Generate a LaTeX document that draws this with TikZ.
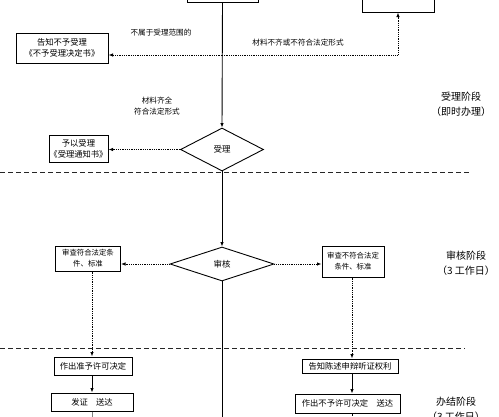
\documentclass[tikz,border=0pt]{standalone}
\usepackage{fontspec}
\newfontfamily\cjk{Noto Sans CJK SC}
\usetikzlibrary{shapes.geometric,arrows.meta}
\begin{document}
\begin{tikzpicture}[x=1pt,y=-1pt,
  font=\cjk\fontsize{8.3}{11}\selectfont,
  box/.style={draw, line width=1pt, inner sep=0pt, align=center},
  dia/.style={draw, line width=0.9pt, diamond, inner sep=0pt, font=\cjk\fontsize{8.5}{10}\selectfont},
  flow/.style={line width=0.9pt, -{Latex[length=4.5pt,width=3.5pt]}},
  dflow/.style={line width=0.8pt, densely dotted, -{Latex[length=4.5pt,width=3.5pt]}},
  dline/.style={line width=0.8pt, densely dotted},
  stage/.style={line width=0.9pt, dash pattern=on 5pt off 3pt, draw=black!85},
  lab/.style={inner sep=0pt, font=\cjk\fontsize{7.6}{11}\selectfont, align=center},
  small/.style={font=\cjk\fontsize{7.4}{11}\selectfont},
  phase/.style={inner sep=0pt, font=\cjk\fontsize{10}{14.5}\selectfont, align=center}]
\useasboundingbox (0,0) rectangle (499,416);
\clip (0,0) rectangle (499,416);
\fill[white] (0,0) rectangle (499,416);

% nodes
\node[box, minimum width=71pt, minimum height=14pt] (top) at (222.5,-5) {};
\node[box, minimum width=72pt, minimum height=24pt] (rtop) at (398,0) {};
\node[box, minimum width=92pt, minimum height=30pt] (nogo) at (62,48) {告知不予受理\\《不予受理决定书》};
\node[dia, minimum width=83pt, minimum height=43pt] (acc) at (222,149.5) {受理};
\node[box, minimum width=59pt, minimum height=27pt] (yes) at (78.5,148.5) {予以受理\\《受理通知书》};
\node[dia, minimum width=104pt, minimum height=34pt] (rev) at (222,264) {审核};
\node[box, small, minimum width=65pt, minimum height=25pt] (ok) at (88,258.5) {审查符合法定条\\件、标准};
\node[box, small, minimum width=62pt, minimum height=31pt] (no) at (353,261.5) {审查不符合法定\\条件、标准};
\node[box, minimum width=78pt, minimum height=18pt] (grant) at (93,366) {作出准予许可决定};
\node[box, minimum width=82pt, minimum height=18pt] (issue) at (92,402) {发证\quad 送达};
\node[box, minimum width=96pt, minimum height=14pt] (hear) at (350,366) {告知陈述申辩听证权利};
\node[box, minimum width=105pt, minimum height=19pt] (deny) at (347.5,403.5) {作出不予许可决定\quad 送达};

\coordinate (j1) at (222,55);
\coordinate (c1) at (398,55);
\coordinate (bmain) at (222,420);
\coordinate (bl) at (92,420);
\coordinate (br) at (352,420);
\coordinate (xl) at (92,0);
\coordinate (xr) at (352,0);

% labels
\node[lab] (l1) at (161,33) {不属于受理范围的};
\node[lab] (l2) at (298,43) {材料不齐或不符合法定形式};
\node[lab] (l3) at (157,106) {材料齐全\\符合法定形式};
\node[phase] (p1) at (461,104) {受理阶段\\（即时办理）};
\node[phase] (p2) at (466,263) {审核阶段\\（3 工作日）};
\node[phase] (p3) at (456,409) {办结阶段\\（3 工作日）};

% stage separators
\coordinate (s1a) at (0,172); \coordinate (s1b) at (471,172);
\coordinate (s2a) at (0,348); \coordinate (s2b) at (465,348);
\draw[stage] (s1a) -- (s1b);
\draw[stage] (s2a) -- (s2b);

% connectors
\draw[flow] (top.south) -- (acc.north);
\draw[dflow] (j1) -- (nogo.east |- j1);
\draw[dflow] (j1) -- (c1) -- (rtop.south -| c1);
\draw[dflow] (acc.west) -- (acc.west -| yes.east);
\draw[flow] (acc.south) -- (rev.north);
\draw[dflow] (rev.west) -- (rev.west -| ok.east);
\draw[dflow] (rev.east) -- (rev.east -| no.west);
\draw[line width=0.9pt] (rev.south) -- (bmain);
\draw[dflow] (ok.south -| xl) -- (grant.north -| xl);
\draw[flow] (grant.south -| issue.north) -- (issue.north);
\draw[line width=0.6pt, draw=black!50] (issue.south) -- (bl);
\draw[dflow] (no.south -| xr) -- (hear.north -| xr);
\draw[flow] (hear.south -| xr) -- (deny.north -| xr);
\draw[dline] (deny.south -| br) -- (br);
\end{tikzpicture}
\end{document}
